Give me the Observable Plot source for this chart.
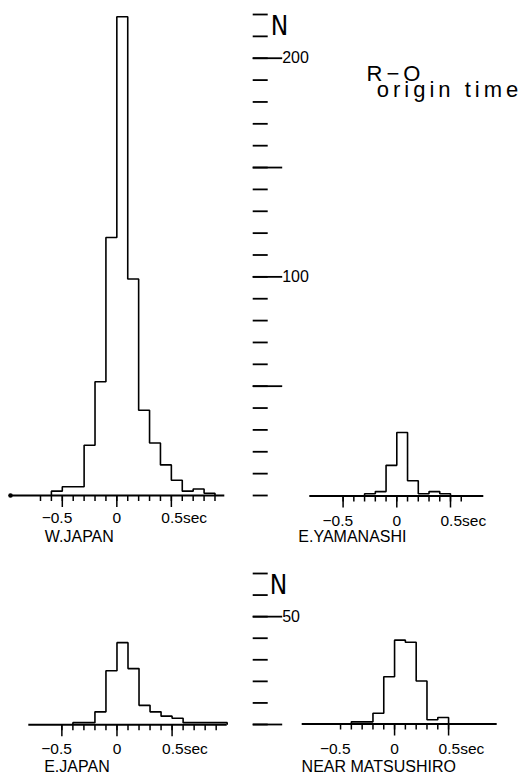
<!DOCTYPE html>
<html>
<head>
<meta charset="utf-8">
<script src="https://cdn.jsdelivr.net/npm/d3@7"></script>
<script src="https://cdn.jsdelivr.net/npm/@observablehq/plot@0.6"></script>
<style>
  html, body { margin: 0; padding: 0; background: #fff; }
  #figure { position: relative; width: 521px; height: 775px; overflow: hidden;
            font-family: "Liberation Sans", Arial, Helvetica, sans-serif; color: #000; }
  #figure svg { position: absolute; left: 0; top: 0; }
  .caption { position: absolute; font-size: 22px; line-height: 16.6px; letter-spacing: 4px; white-space: pre; }
</style>
</head>
<body>
<div id="figure">
  <div class="caption" style="left:366.6px; top:65.8px">R−O
 origin time</div>
</div>
<script>
// R−O residuals (reading time minus origin time) in 0.1 s bins:
// each pair of arrays lists the bin starts (s) and the number of readings.
const binWidth = 0.1;

const wJapanBins = [-0.6, -0.5, -0.4, -0.3, -0.2, -0.1, 0, 0.1, 0.2, 0.3, 0.4, 0.5, 0.6, 0.7, 0.8];
const wJapanN    = [2, 4, 4, 23, 52, 118, 219, 99, 39, 24, 14, 7, 2, 3, 1];

const eYamanashiBins = [-0.3, -0.2, -0.1, 0, 0.1, 0.2, 0.3, 0.4];
const eYamanashiN    = [1, 2, 14, 29, 7, 1, 2, 1];

const eJapanBins = [-0.4, -0.3, -0.2, -0.1, 0, 0.1, 0.2, 0.3, 0.4, 0.5, 0.6, 0.7, 0.8, 0.9];
const eJapanN    = [1, 1, 6, 25, 38, 26, 9, 6, 4, 3, 1, 1, 1, 1];

const matsushiroBins = [-0.4, -0.3, -0.2, -0.1, 0, 0.1, 0.2, 0.3, 0.4];
const matsushiroN    = [1, 1, 5, 22, 39, 38, 20, 2, 3];

const regionNames = ["W.JAPAN", "E.YAMANASHI", "E.JAPAN", "NEAR MATSUSHIRO"];

// time axes (s)
const xLabelValues = [-0.5, 0, 0.5];
const xLabels      = ["−0.5", "0", "0.5sec"];
const wJapanTicks     = [-0.7, -0.6, -0.5, -0.4, -0.3, -0.2, -0.1, 0, 0.1, 0.2, 0.3, 0.4, 0.5, 0.6, 0.7, 0.8, 0.9];
const eYamanashiTicks = [-0.5, -0.4, -0.3, -0.2, -0.1, 0, 0.1, 0.2, 0.3, 0.4, 0.5, 0.6];
const eJapanTicks     = [-0.5, -0.4, -0.3, -0.2, -0.1, 0, 0.1, 0.2, 0.3, 0.4, 0.5, 0.6, 0.7, 0.8, 0.9];
const matsushiroTicks = [-0.5, -0.4, -0.3, -0.2, -0.1, 0, 0.1, 0.2, 0.3, 0.4, 0.5];
const majorTicks      = [-0.5, 0, 0.5];
const matsushiroMajor = [0, 0.5];

// count axes (N)
const topNDomain    = [0, 220];
const topNTicks     = d3.range(0, 221, 10);
const topNLong      = [50, 150];
const topNLabelled  = [100, 200];
const bottomNDomain   = [0, 70];
const bottomNTicks    = d3.range(0, 71, 10);
const bottomNLong     = [0];
const bottomNLabelled = [50];

const W = 521, H = 775;
const font = "'Liberation Sans', Arial, Helvetica, sans-serif";
const narrowFont = "'Liberation Sans Narrow', 'DejaVu Sans Condensed', 'Liberation Sans', Arial, sans-serif";
const baseStyle = {background: "transparent", fontFamily: font, color: "#000", overflow: "visible"};

// histogram outline as a step path: up from the first bin edge, across each bin, down after the last
function outline(starts, counts) {
  const last = starts.length - 1;
  const end = starts[last] + binWidth;
  return [
    {x: starts[0], n: 0},
    ...starts.map((x, i) => ({x, n: counts[i]})),
    {x: end, n: counts[last]},
    {x: end, n: 0}
  ];
}

// "0.5" part of each label sits on its tick; the minus sign hangs left, "sec" hangs right
function tickLabels(dy) {
  const rows = xLabelValues.map((x, i) => ({x, label: xLabels[i]}));
  const common = {x: "x", text: "label", frameAnchor: "bottom", lineAnchor: "bottom", dy, fontSize: 15.5};
  const lead = rows.filter(d => d.label.startsWith("−"));
  const trail = rows.filter(d => d.label.endsWith("sec"));
  const plain = rows.filter(d => !lead.includes(d) && !trail.includes(d));
  return [
    Plot.text(lead, {...common, textAnchor: "end", dx: 10}),
    Plot.text(trail, {...common, textAnchor: "start", dx: -10}),
    Plot.text(plain, {...common, textAnchor: "middle"})
  ];
}

// one histogram panel; frame = page pixels of the time axis line
function panel({data, name, domain, yDomain, frame, ticks, major, nameDx, nameDy, labelDy, originDot}) {
  return Plot.plot({
    width: W, height: H,
    marginLeft: frame.left, marginRight: W - frame.right,
    marginTop: frame.top, marginBottom: H - frame.bottom,
    x: {domain},
    y: {domain: yDomain, axis: null},
    style: baseStyle,
    marks: [
      Plot.ruleY([0], {stroke: "#000", strokeWidth: 2}),
      Plot.line(data, {x: "x", y: "n", curve: "step-after", stroke: "#000", strokeWidth: 1.6,
                       strokeLinejoin: "miter", strokeLinecap: "butt"}),
      originDot ? Plot.dot([0], {frameAnchor: "bottom-left", r: 2.3, fill: "#000", stroke: "none"}) : null,
      Plot.axisX(ticks, {anchor: "bottom", tickSize: 6, fill: "none", strokeWidth: 1.5, label: null}),
      Plot.axisX(major, {anchor: "bottom", tickSize: 12, fill: "none", strokeWidth: 1.5, label: null}),
      ...tickLabels(labelDy),
      Plot.text([name], {frameAnchor: "bottom-left", textAnchor: "start", lineAnchor: "bottom",
                         dx: nameDx, dy: nameDy, fontSize: 16})
    ]
  });
}

// shared N axis between the two panels of a row; its ticks point right from x = axisX
function nAxis({yDomain, top, bottom, axisX, ticks, long, labelled, nValue, nDx, nDy}) {
  return Plot.plot({
    width: W, height: H,
    marginLeft: axisX - 10, marginRight: W - axisX,
    marginTop: top, marginBottom: H - bottom,
    y: {domain: yDomain},
    style: baseStyle,
    marks: [
      Plot.axisY(ticks, {anchor: "right", tickSize: 15, fill: "none", strokeWidth: 1.8, label: null}),
      Plot.axisY(long, {anchor: "right", tickSize: 29.5, fill: "none", strokeWidth: 1.8, label: null}),
      Plot.axisY(labelled, {anchor: "right", tickSize: 29.5, tickPadding: 0.5, strokeWidth: 1.8,
                            fontSize: 16, label: null}),
      Plot.text(["N"], {y: nValue, frameAnchor: "right", textAnchor: "start", lineAnchor: "bottom",
                        dx: nDx, dy: nDy, fontSize: 26, fontFamily: narrowFont})
    ]
  });
}

const figure = document.getElementById("figure");
const plots = [
  panel({data: outline(wJapanBins, wJapanN), name: regionNames[0], domain: [-0.975, 0.99], yDomain: topNDomain,
         frame: {left: 10, right: 224.3, top: 14, bottom: 495}, ticks: wJapanTicks, major: majorTicks,
         nameDx: 34.3, nameDy: 46.7, labelDy: 27.7, originDot: true}),
  panel({data: outline(eYamanashiBins, eYamanashiN), name: regionNames[1], domain: [-0.81, 0.81], yDomain: topNDomain,
         frame: {left: 309.3, right: 483.3, top: 14, bottom: 495.5}, ticks: eYamanashiTicks, major: majorTicks,
         nameDx: -11.5, nameDy: 45.5, labelDy: 29.5}),
  panel({data: outline(eJapanBins, eJapanN), name: regionNames[2], domain: [-0.8, 1.0], yDomain: bottomNDomain,
         frame: {left: 28.3, right: 226.7, top: 573, bottom: 724.3}, ticks: eJapanTicks, major: majorTicks,
         nameDx: 15.4, nameDy: 47.2, labelDy: 29}),
  panel({data: outline(matsushiroBins, matsushiroN), name: regionNames[3], domain: [-0.855, 0.95], yDomain: bottomNDomain,
         frame: {left: 301.7, right: 496.7, top: 573, bottom: 723.5}, ticks: matsushiroTicks, major: matsushiroMajor,
         nameDx: -0.6, nameDy: 48, labelDy: 29.8}),
  nAxis({yDomain: topNDomain, top: 14, bottom: 495, axisX: 251.7, ticks: topNTicks, long: topNLong,
         labelled: topNLabelled, nValue: 210, nDx: 18.5, nDy: -1}),
  nAxis({yDomain: bottomNDomain, top: 573, bottom: 724, axisX: 251.7, ticks: bottomNTicks, long: bottomNLong,
         labelled: bottomNLabelled, nValue: 60, nDx: 17.5, nDy: -1.5})
];
plots.forEach(p => figure.appendChild(p));
</script>
</body>
</html>
